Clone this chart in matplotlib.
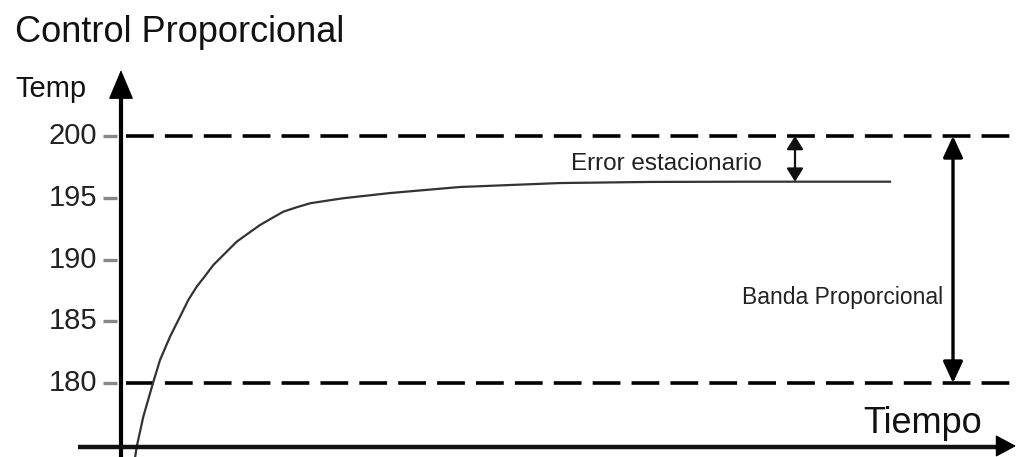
import matplotlib
matplotlib.use("Agg")
import matplotlib.pyplot as plt

plt.rcParams['font.family'] = ['Liberation Sans', 'DejaVu Sans']
plt.rcParams['lines.scale_dashes'] = False

# ---- data ----
time = [1.3, 1.57, 2.23, 3.17, 3.9, 4.9, 6.07, 6.73, 7.57, 8.4, 9.23, 10.23,
        11.57, 12.73, 13.9, 15.07, 16.23, 17.57, 18.9, 20.57, 22.23, 26.9,
        33.9, 43.9, 52.9, 62.9, 76.9]
temp = [173.4, 174.84, 177.27, 179.92, 181.86, 183.75, 185.64, 186.72, 187.80,
        188.66, 189.55, 190.36, 191.44, 192.12, 192.79, 193.34, 193.87, 194.23,
        194.55, 194.76, 194.96, 195.38, 195.87, 196.19, 196.28, 196.30, 196.30]
ytick_values = [180, 185, 190, 195, 200]
ytick_labels = ["180", "185", "190", "195", "200"]
setpoint = 200
band_low = 180
steady_state = 196.3

title = "Control Proporcional"
ylabel = "Temp"
xlabel = "Tiempo"
error_label = "Error estacionario"
band_label = "Banda Proporcional"

W, H = 1016, 457
fig = plt.figure(figsize=(W / 100, H / 100), dpi=100)
ax = fig.add_axes([0, 0, 1, 1])
ax.set_xlim(-12.1, 89.5)
ax.set_ylim(174.01, 211.01)
ax.axis('off')

def fx(px):
    return px / W

def fy(py):
    return 1 - py / H

yt = ax.get_yaxis_transform()

# dashed setpoint / band lines
for v in (setpoint, band_low):
    ax.plot([fx(126), 1.0], [v, v], transform=yt, color='black', lw=2.6,
            linestyle=(0, (20, 8)), solid_capstyle='butt', dash_capstyle='butt')

# response curve
ax.plot(time, temp, color='#333333', lw=1.6, solid_joinstyle='round')

# ticks
for v, lab in zip(ytick_values, ytick_labels):
    ax.plot([fx(103), fx(117)], [v, v], transform=yt, color='#888888', lw=2.4,
            solid_capstyle='butt')
    ax.text(fx(97), v, lab, transform=yt, ha='right', va='center',
            fontsize=21, color='#222222')

# axes with arrows
ax.plot([fx(121), fx(121)], [0, fy(90)], transform=ax.transAxes, color='black',
        lw=3, solid_capstyle='butt')
ax.annotate('', xy=(fx(121), fy(70)), xytext=(fx(121), fy(100)),
            xycoords=ax.transAxes, textcoords=ax.transAxes,
            arrowprops=dict(arrowstyle='-|>,head_length=19,head_width=8',
                            mutation_scale=1, color='black', lw=1,
                            shrinkA=0, shrinkB=0))
ax.plot([fx(78), fx(1000)], [fy(447), fy(447)], transform=ax.transAxes,
        color='#111111', lw=3.2, solid_capstyle='butt')
ax.annotate('', xy=(fx(1016), fy(446)), xytext=(fx(995), fy(446)),
            xycoords=ax.transAxes, textcoords=ax.transAxes,
            arrowprops=dict(arrowstyle='-|>,head_length=13,head_width=7',
                            mutation_scale=1, color='black', lw=1,
                            shrinkA=0, shrinkB=0))

# error arrow
ax.annotate('', xy=(fx(795), setpoint), xytext=(fx(795), steady_state),
            xycoords=yt, textcoords=yt,
            arrowprops=dict(arrowstyle='<|-|>,head_length=8,head_width=5',
                            mutation_scale=1, color='#111111', lw=1.6,
                            shrinkA=0, shrinkB=0))
# band arrow
ax.annotate('', xy=(fx(953), setpoint), xytext=(fx(953), band_low),
            xycoords=yt, textcoords=yt,
            arrowprops=dict(arrowstyle='<|-|>,head_length=13,head_width=6',
                            mutation_scale=1, color='black', lw=2.4,
                            shrinkA=0, shrinkB=0))

# texts
ax.text(fx(15), fy(42), title, transform=ax.transAxes, ha='left', va='baseline',
        fontsize=26, color='#111111')
ax.text(fx(15), fy(97), ylabel, transform=ax.transAxes, ha='left', va='baseline',
        fontsize=21, color='#111111')
ax.text(fx(863), fy(433), xlabel, transform=ax.transAxes, ha='left',
        va='baseline', fontsize=26, color='#111111')
ax.text(fx(571), fy(170), error_label, transform=ax.transAxes, ha='left',
        va='baseline', fontsize=17.5, color='#222222')
ax.text(fx(943), fy(304), band_label, transform=ax.transAxes, ha='right',
        va='baseline', fontsize=16.5, color='#222222')

fig.savefig('out.png', dpi=100)
